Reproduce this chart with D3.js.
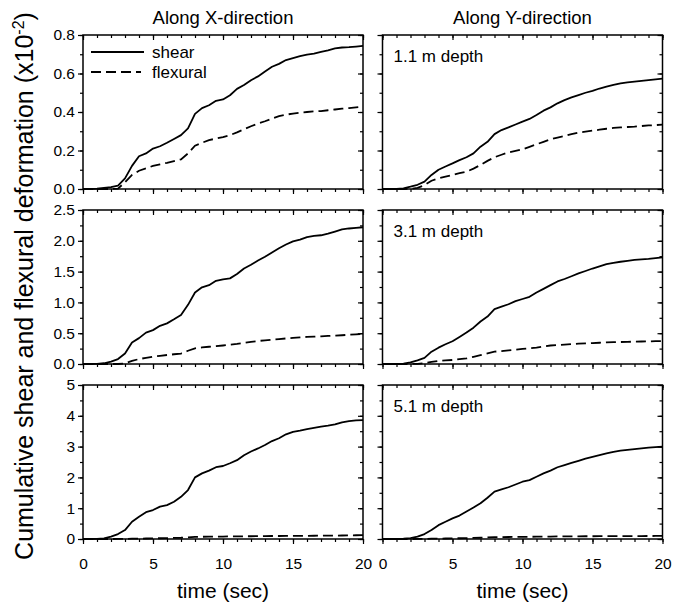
<!DOCTYPE html>
<html><head><meta charset="utf-8">
<script src="https://cdn.jsdelivr.net/npm/d3@7"></script>
<style>
body{margin:0;background:#fff;}
text{font-family:"Liberation Sans",Arial,sans-serif;fill:#000;}
</style></head>
<body><svg id="c" width="673" height="606"></svg>
<script>
const time = [0,0.5,1,1.5,2,2.5,3,3.5,4,4.5,5,5.5,6,6.5,7,7.5,8,8.5,9,9.5,10,10.5,11,11.5,12,12.5,13,13.5,14,14.5,15,15.5,16,16.5,17,17.5,18,18.5,19,19.5,20];
const shearX1 = [0,0,0.002,0.006,0.01,0.018,0.055,0.12,0.17,0.185,0.21,0.222,0.24,0.26,0.28,0.315,0.39,0.42,0.435,0.458,0.465,0.487,0.52,0.54,0.565,0.585,0.61,0.635,0.65,0.67,0.68,0.69,0.698,0.703,0.712,0.72,0.73,0.735,0.737,0.74,0.743];
const flexX1 = [0,0,0,0,0,0.002,0.035,0.073,0.095,0.107,0.12,0.128,0.136,0.145,0.154,0.185,0.225,0.24,0.254,0.262,0.27,0.28,0.294,0.31,0.326,0.34,0.352,0.366,0.378,0.386,0.392,0.397,0.4,0.403,0.405,0.409,0.413,0.417,0.42,0.424,0.428];
const shearY1 = [0,0,0,0.003,0.012,0.022,0.038,0.073,0.1,0.117,0.133,0.15,0.165,0.185,0.22,0.245,0.285,0.306,0.32,0.335,0.35,0.364,0.384,0.407,0.424,0.445,0.462,0.476,0.488,0.5,0.51,0.522,0.532,0.541,0.549,0.554,0.558,0.562,0.566,0.57,0.573];
const flexY1 = [0,0,0,0,0.001,0.006,0.02,0.043,0.055,0.064,0.073,0.082,0.09,0.106,0.125,0.146,0.165,0.178,0.19,0.198,0.206,0.219,0.232,0.245,0.258,0.267,0.275,0.285,0.293,0.298,0.303,0.308,0.313,0.317,0.32,0.322,0.324,0.327,0.33,0.332,0.334];
const shearX3 = [0,0,0.003,0.012,0.04,0.08,0.17,0.35,0.42,0.51,0.55,0.62,0.66,0.725,0.795,0.96,1.16,1.245,1.28,1.35,1.375,1.39,1.46,1.55,1.61,1.68,1.74,1.81,1.88,1.94,1.99,2.02,2.06,2.08,2.09,2.115,2.15,2.185,2.2,2.21,2.22];
const flexX3 = [0,0,0,0,0,0,0.01,0.05,0.08,0.1,0.12,0.133,0.146,0.158,0.17,0.215,0.254,0.27,0.28,0.29,0.3,0.312,0.325,0.342,0.36,0.373,0.385,0.395,0.405,0.415,0.425,0.433,0.44,0.445,0.45,0.455,0.46,0.467,0.475,0.482,0.49];
const shearY3 = [0,0,0,0.005,0.025,0.06,0.1,0.2,0.265,0.32,0.37,0.44,0.51,0.59,0.69,0.77,0.89,0.93,0.97,1.02,1.055,1.09,1.16,1.22,1.28,1.34,1.38,1.425,1.47,1.51,1.55,1.585,1.62,1.64,1.66,1.675,1.69,1.7,1.705,1.718,1.73];
const flexY3 = [0,0,0,0,0,0.003,0.015,0.035,0.05,0.058,0.065,0.078,0.09,0.117,0.145,0.172,0.2,0.21,0.22,0.232,0.245,0.255,0.265,0.283,0.3,0.308,0.315,0.323,0.33,0.335,0.34,0.345,0.35,0.354,0.357,0.36,0.362,0.365,0.368,0.37,0.373];
const shearX5 = [0,0,0.005,0.02,0.075,0.16,0.29,0.56,0.72,0.87,0.94,1.05,1.1,1.21,1.37,1.59,2.0,2.13,2.22,2.33,2.37,2.46,2.56,2.72,2.84,2.94,3.05,3.18,3.27,3.4,3.48,3.52,3.57,3.61,3.65,3.68,3.72,3.79,3.83,3.85,3.86];
const flexX5 = [0,0,0,0,0,0.002,0.005,0.01,0.013,0.016,0.02,0.025,0.03,0.035,0.04,0.055,0.07,0.073,0.075,0.078,0.08,0.083,0.085,0.088,0.09,0.093,0.095,0.097,0.098,0.099,0.1,0.102,0.104,0.106,0.108,0.109,0.11,0.113,0.117,0.121,0.125];
const shearY5 = [0,0,0,0.008,0.03,0.075,0.16,0.29,0.45,0.56,0.67,0.76,0.89,1.02,1.16,1.34,1.54,1.61,1.68,1.77,1.86,1.91,2.02,2.13,2.22,2.33,2.4,2.47,2.54,2.61,2.67,2.725,2.78,2.83,2.87,2.895,2.92,2.945,2.97,2.985,3.0];
const flexY5 = [0,0,0,0,0,0.002,0.005,0.009,0.012,0.016,0.02,0.025,0.03,0.035,0.04,0.05,0.06,0.063,0.065,0.068,0.07,0.072,0.075,0.078,0.08,0.082,0.084,0.086,0.088,0.089,0.09,0.091,0.092,0.093,0.094,0.094,0.095,0.096,0.097,0.099,0.1];

const columnTitles = ["Along X-direction","Along Y-direction"];
const depthLabels = ["1.1 m depth","3.1 m depth","5.1 m depth"];
const yMax = [0.8, 2.5, 5];
const yMajorTicks = [[0,0.2,0.4,0.6,0.8],[0,0.5,1.0,1.5,2.0,2.5],[0,1,2,3,4,5]];
const yMinorStep = [0.1, 0.25, 0.5];
const yTickFormat = [".1f", ".1f", "d"];
const xMajorTicks = [0,5,10,15,20];
const legendLabels = ["shear","flexural"];

const panels = [
  [{shear:shearX1, flex:flexX1},{shear:shearY1, flex:flexY1}],
  [{shear:shearX3, flex:flexX3},{shear:shearY3, flex:flexY3}],
  [{shear:shearX5, flex:flexX5},{shear:shearY5, flex:flexY5}]
];

const svg = d3.select("#c");
const colX = [83, 382.5], pw = 280;
const rowY = [35, 210, 385], ph = 154;
const dash = "10,5";

const xMinor = d3.range(0, 21, 1);

for (let r = 0; r < 3; r++) {
  for (let c = 0; c < 2; c++) {
    const g = svg.append("g").attr("transform", `translate(${colX[c]},${rowY[r]})`);
    const x = d3.scaleLinear().domain([0,20]).range([0,pw]);
    const y = d3.scaleLinear().domain([0,yMax[r]]).range([ph,0]);
    const yMinor = d3.range(0, yMax[r] + 1e-9, yMinorStep[r]);

    g.append("g").attr("transform",`translate(0,${ph})`)
      .call(d3.axisBottom(x).tickValues(xMinor).tickSize(3).tickFormat(""));
    g.append("g").attr("transform",`translate(0,${ph})`)
      .call(d3.axisBottom(x).tickValues(xMajorTicks).tickSize(5).tickPadding(14)
        .tickFormat(r===2 ? d3.format("d") : ""));
    g.append("g").call(d3.axisTop(x).tickValues(xMinor).tickSize(-3).tickFormat(""));
    g.append("g").call(d3.axisTop(x).tickValues(xMajorTicks).tickSize(-5).tickFormat(""));
    g.append("g").call(d3.axisLeft(y).tickValues(yMinor).tickSize(3).tickFormat(""));
    g.append("g").call(d3.axisLeft(y).tickValues(yMajorTicks[r]).tickSize(5).tickPadding(3)
      .tickFormat(c===0 ? d3.format(yTickFormat[r]) : ""));
    g.append("g").attr("transform",`translate(${pw},0)`)
      .call(d3.axisRight(y).tickValues(yMinor).tickSize(-3).tickFormat(""));
    g.append("g").attr("transform",`translate(${pw},0)`)
      .call(d3.axisRight(y).tickValues(yMajorTicks[r]).tickSize(-5).tickFormat(""));

    g.selectAll(".domain").remove();
    g.selectAll(".tick line").attr("stroke","#000").attr("stroke-width",1.2);
    g.selectAll(".tick text").style("font-family",'"Liberation Sans",Arial,sans-serif').style("font-size","15.5px").attr("fill","#000");

    g.append("rect").attr("x",0).attr("y",0).attr("width",pw).attr("height",ph)
      .attr("fill","none").attr("stroke","#000").attr("stroke-width",1.5);

    const line = d3.line().x((d,i)=>x(time[i])).y(d=>y(d));
    const p = panels[r][c];
    g.append("path").datum(p.flex).attr("d",line).attr("fill","none")
      .attr("stroke","#000").attr("stroke-width",1.8).attr("stroke-dasharray",dash);
    g.append("path").datum(p.shear).attr("d",line).attr("fill","none")
      .attr("stroke","#000").attr("stroke-width",1.8).attr("stroke-linejoin","round");

    if (c === 1) {
      g.append("text").attr("x",11).attr("y",26.5).style("font-size","17px").text(depthLabels[r]);
    }
    if (r === 0 && c === 0) {
      g.append("line").attr("x1",8).attr("x2",61).attr("y1",17).attr("y2",17)
        .attr("stroke","#000").attr("stroke-width",1.8);
      g.append("line").attr("x1",8).attr("x2",58).attr("y1",37).attr("y2",37)
        .attr("stroke","#000").attr("stroke-width",1.8).attr("stroke-dasharray",dash);
      g.append("text").attr("x",69).attr("y",22.5).style("font-size","17px").text(legendLabels[0]);
      g.append("text").attr("x",69).attr("y",42.5).style("font-size","17px").text(legendLabels[1]);
    }
    if (r === 0) {
      svg.append("text").attr("x",colX[c]+pw/2).attr("y",24).attr("text-anchor","middle")
        .style("font-size","18.5px").text(columnTitles[c]);
    }
    if (r === 2) {
      svg.append("text").attr("x",colX[c]+pw/2).attr("y",598).attr("text-anchor","middle")
        .style("font-size","21px").text("time (sec)");
    }
  }
}

const yt = svg.append("text").attr("transform","translate(33,286) rotate(-90)")
  .attr("text-anchor","middle").style("font-size","25px");
yt.append("tspan").text("Cumulative shear and flexural deformation (x10");
yt.append("tspan").attr("dy",-9).style("font-size","16px").text("-2");
yt.append("tspan").attr("dy",9).text(")");
</script></body></html>
